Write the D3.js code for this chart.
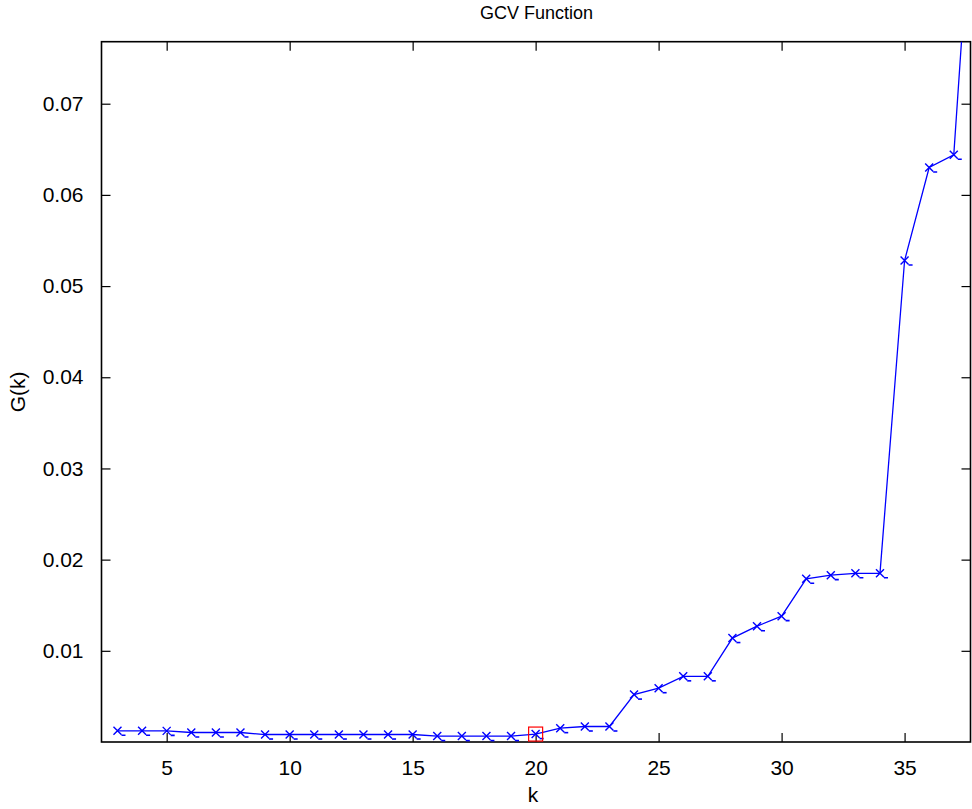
<!DOCTYPE html>
<html>
<head>
<meta charset="utf-8">
<script src="https://cdn.jsdelivr.net/npm/d3@7"></script>
<style>
  html, body { margin: 0; padding: 0; background: #fff; }
  svg { display: block; font-family: "Liberation Sans", Arial, sans-serif; }
</style>
</head>
<body>
<svg id="chart" width="972" height="809"></svg>
<script>
// GCV function values G(k) for truncation levels k
const kValues = [3,4,5,6,7,8,9,10,11,12,13,14,15,16,17,18,19,20,21,22,23,24,25,26,27,28,29,30,31,32,33,34,35,36,37,38];
const gValues = [0.00123,0.00123,0.00122,0.00104,0.00104,0.00104,0.00082,0.00082,0.00082,0.00082,0.00082,0.00082,0.00082,
                 0.00065,0.00065,0.00065,0.00065,0.00087,0.00152,0.0017,0.0017,0.0052,0.0059,0.0072,0.0072,
                 0.0114,0.0127,0.0138,0.0179,0.0183,0.0185,0.0185,0.0528,0.0630,0.0644,0.104];
const xTicks = [5,10,15,20,25,30,35];
const yTicks = [0.01,0.02,0.03,0.04,0.05,0.06,0.07];
const kMin = 20; // selected minimiser

const svg = d3.select("#chart");
const pLeft = 101.5, pRight = 970.5, pTop = 41.7, pBottom = 742;

const x = d3.scaleLinear().domain([2.35, 37.68]).range([pLeft, pRight]);
const y = d3.scaleLinear().domain([0, 0.0768]).range([pBottom, pTop]);

svg.append("defs").append("clipPath").attr("id", "plotclip")
  .append("rect").attr("x", pLeft).attr("y", pTop).attr("width", pRight - pLeft).attr("height", pBottom - pTop);

// Axes with inward ticks on all four sides
const tickLen = 9;
const axB = svg.append("g").attr("transform", `translate(0,${pBottom})`)
  .call(d3.axisBottom(x).tickValues(xTicks).tickSizeInner(-tickLen).tickSizeOuter(0).tickPadding(18).tickFormat(d3.format("d")));
const axT = svg.append("g").attr("transform", `translate(0,${pTop})`)
  .call(d3.axisTop(x).tickValues(xTicks).tickSizeInner(-tickLen).tickSizeOuter(0).tickFormat(""));
const axL = svg.append("g").attr("transform", `translate(${pLeft},0)`)
  .call(d3.axisLeft(y).tickValues(yTicks).tickSizeInner(-tickLen).tickSizeOuter(0).tickPadding(18).tickFormat(d3.format(".2f")));
const axR = svg.append("g").attr("transform", `translate(${pRight},0)`)
  .call(d3.axisRight(y).tickValues(yTicks).tickSizeInner(-tickLen).tickSizeOuter(0).tickFormat(""));

[axB, axT, axL, axR].forEach(g => {
  g.select(".domain").remove();
  g.selectAll(".tick line").attr("stroke", "#000").attr("stroke-width", 1.2);
  g.selectAll(".tick text").attr("fill", "#000").style("font-size", "21px");
});
axB.selectAll(".tick text").attr("dy", "0.71em");

// Axes box
svg.append("rect").attr("x", pLeft).attr("y", pTop).attr("width", pRight - pLeft).attr("height", pBottom - pTop)
  .attr("fill", "none").attr("stroke", "#000").attr("stroke-width", 1.6);

const pts = kValues.map((k, i) => ({ k, g: gValues[i] }));
const plot = svg.append("g").attr("clip-path", "url(#plotclip)");

plot.append("path").datum(pts)
  .attr("fill", "none").attr("stroke", "#0000ff").attr("stroke-width", 1.3)
  .attr("d", d3.line().x(d => x(d.k)).y(d => y(d.g)));

// x markers
const m = plot.selectAll("g.mk").data(pts).join("g").attr("class", "mk")
  .attr("transform", d => `translate(${x(d.k)},${y(d.g)})`);
m.append("path").attr("d", "M-4,-4L4,4M-4,4L4,-4")
  .attr("stroke", "#0000ff").attr("stroke-width", 1.4).attr("fill", "none");
m.append("path").attr("d", "M4,4.5L8,4.5")
  .attr("stroke", "#0000ff").attr("stroke-width", 1.6).attr("fill", "none");

// Minimum marker
const sel = pts.find(d => d.k === kMin);
svg.append("rect").attr("x", x(sel.k) - 7).attr("y", y(sel.g) - 7).attr("width", 14).attr("height", 14)
  .attr("fill", "none").attr("stroke", "#ff0000").attr("stroke-width", 1.2);

// Labels
svg.append("text").attr("x", (pLeft + pRight) / 2 + 0.5).attr("y", 19).attr("text-anchor", "middle")
  .style("font-size", "18px").text("GCV Function");
svg.append("text").attr("x", (pLeft + pRight) / 2 - 3).attr("y", 802).attr("text-anchor", "middle")
  .style("font-size", "21px").text("k");
svg.append("text").attr("transform", `translate(25,${(pTop + pBottom) / 2})rotate(-90)`).attr("text-anchor", "middle")
  .style("font-size", "21px").text("G(k)");
</script>
</body>
</html>
